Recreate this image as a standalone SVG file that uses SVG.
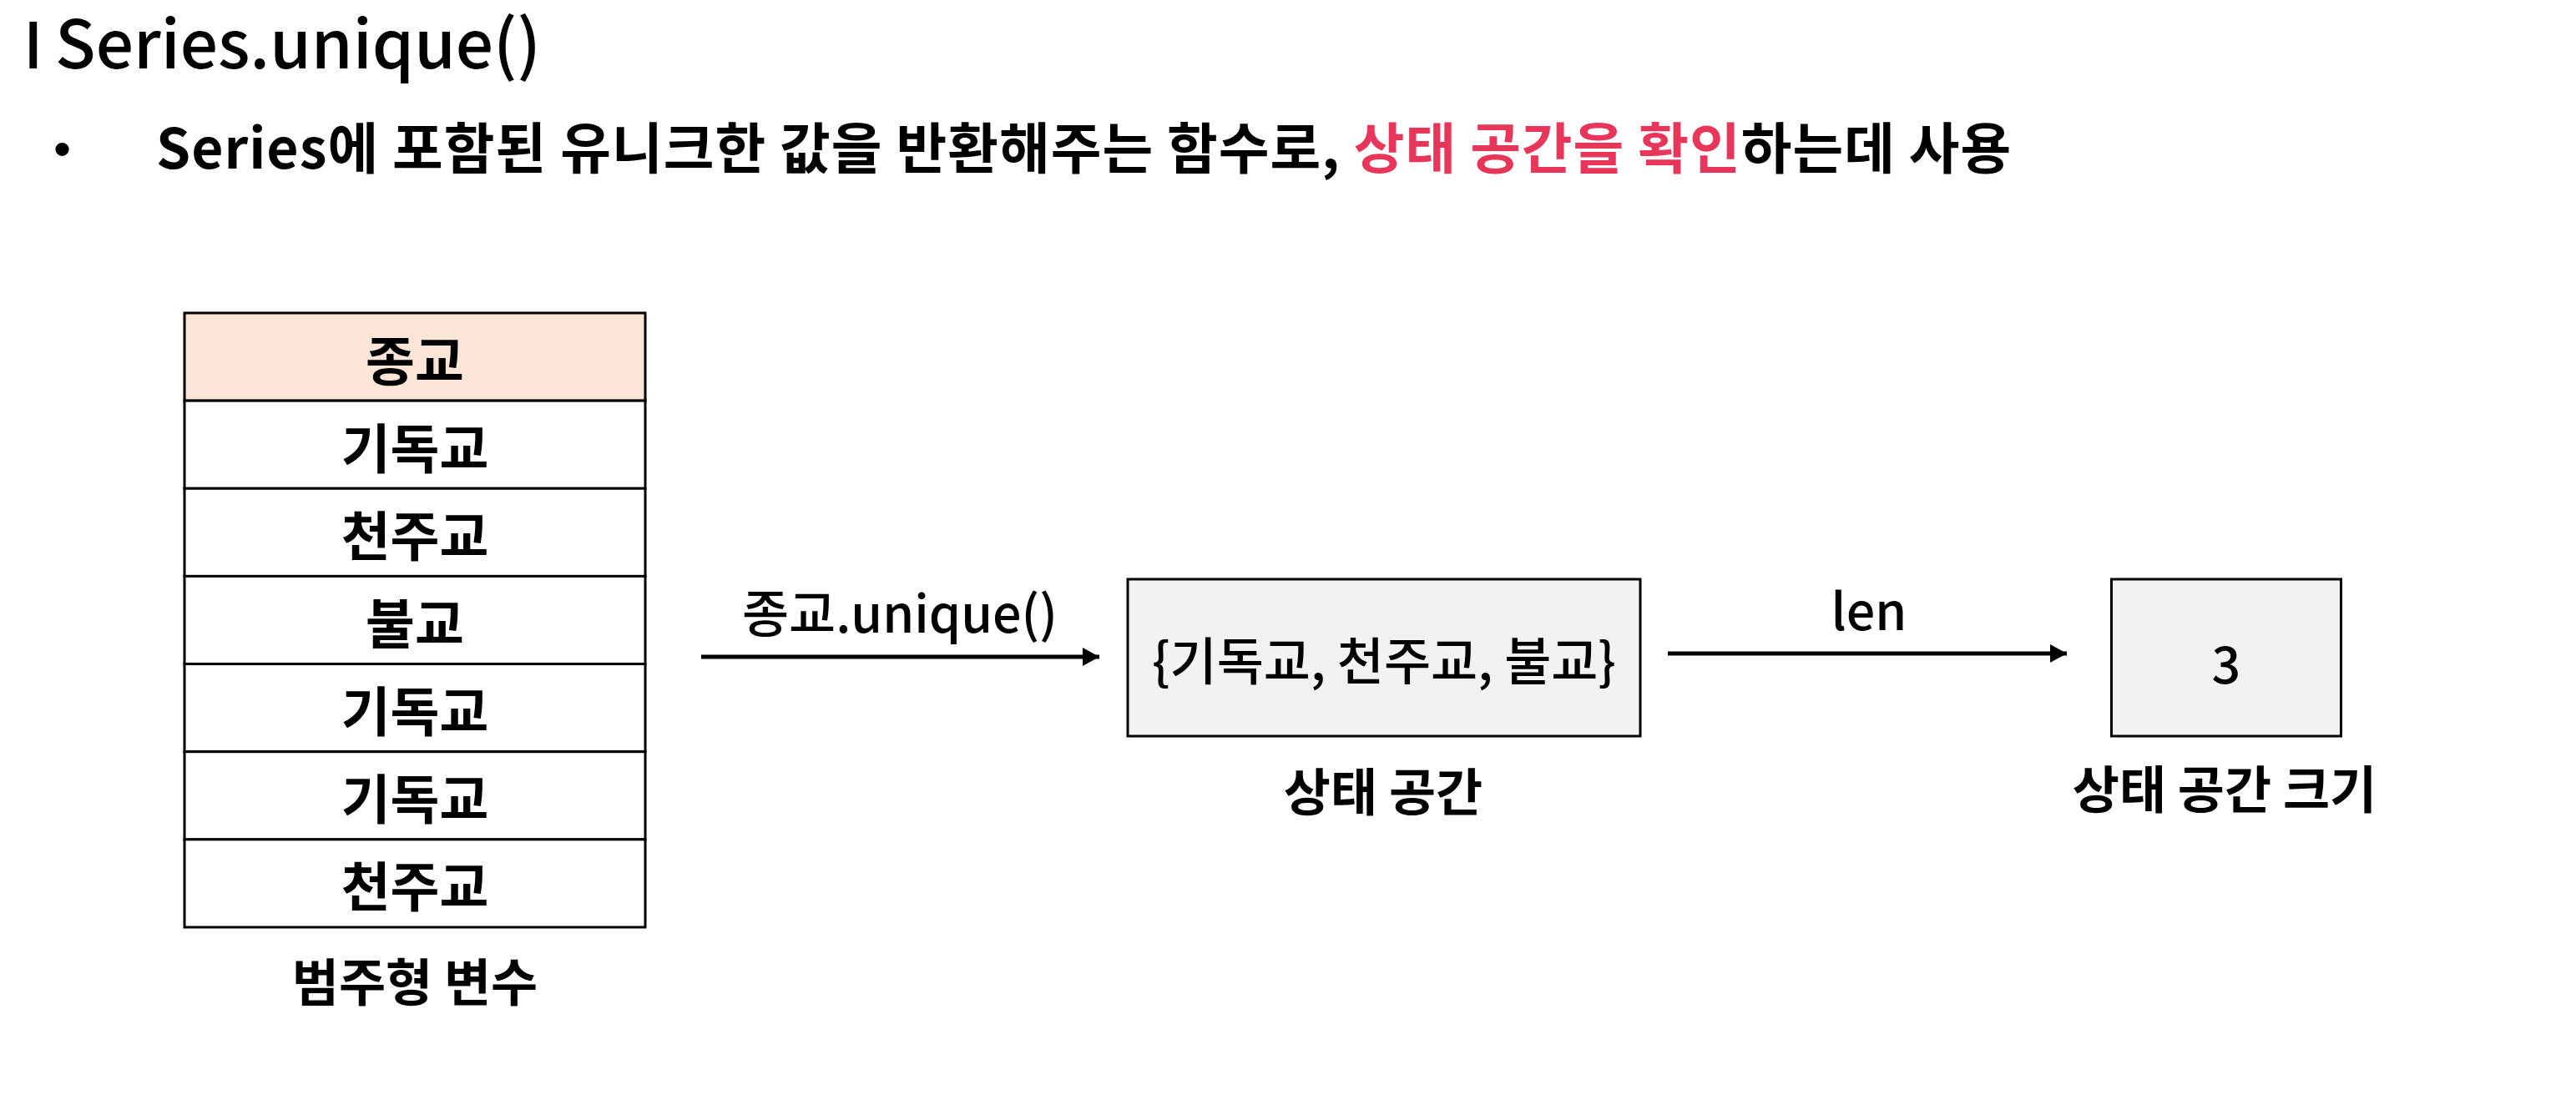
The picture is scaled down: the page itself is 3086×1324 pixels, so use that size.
<svg xmlns="http://www.w3.org/2000/svg" width="3086" height="1324" viewBox="0 0 3086 1324">
  <style>
    text { font-family: "Noto Sans CJK KR", "Noto Sans", sans-serif; fill: #000; }
    .title { font-size: 80px; font-weight: 500; }
    .bar { font-size: 76px; font-weight: 500; }
    .body { font-size: 66px; font-weight: 700; letter-spacing: 1px; }
    .red { fill: #E8365A; }
    .cell { fill: #FFFFFF; stroke: #000; stroke-width: 3; }
    .head { fill: #FBE5D6; stroke: #000; stroke-width: 3; }
    .ctext { font-size: 64px; font-weight: 700; text-anchor: middle; dominant-baseline: central; }
    .box { fill: #F2F2F2; stroke: #000; stroke-width: 3; }
    .btext { font-size: 61px; font-weight: 500; text-anchor: middle; dominant-baseline: central; }
    .cap { font-size: 61px; font-weight: 700; text-anchor: middle; dominant-baseline: central; }
    .lbl { font-size: 61px; font-weight: 500; text-anchor: middle; }
    .conn { stroke: #000; stroke-width: 5; fill: none; }
  </style>
  <defs>
    <marker id="arrow" markerUnits="userSpaceOnUse" markerWidth="20" markerHeight="22" refX="20" refY="11" orient="auto">
      <path d="M0,0 L20,11 L0,22 Z" fill="#000"/>
    </marker>
  </defs>
  <rect x="0" y="0" width="3086" height="1324" fill="#FFFFFF"/>

  <g id="title">
    <text class="bar" x="28" y="82">I</text>
    <text class="title" x="66" y="82">Series.unique()</text>
  </g>
  <g id="bullet">
    <text x="64" y="199" style="font-family: 'Liberation Sans', sans-serif; font-size: 60px;">•</text>
    <text class="body" x="187" y="202">Series에 포함된 유니크한 값을 반환해주는 함수로, <tspan class="red">상태 공간을 확인</tspan>하는데 사용</text>
  </g>

  <g id="table">
    <rect class="head" x="221" y="375" width="552" height="105.14"/>
    <rect class="cell" x="221" y="480.14" width="552" height="105.14"/>
    <rect class="cell" x="221" y="585.28" width="552" height="105.14"/>
    <rect class="cell" x="221" y="690.42" width="552" height="105.14"/>
    <rect class="cell" x="221" y="795.56" width="552" height="105.14"/>
    <rect class="cell" x="221" y="900.7" width="552" height="105.14"/>
    <rect class="cell" x="221" y="1005.84" width="552" height="105.14"/>
    <text class="ctext" x="497" y="427.6">종교</text>
    <text class="ctext" x="497" y="532.7">기독교</text>
    <text class="ctext" x="497" y="637.9">천주교</text>
    <text class="ctext" x="497" y="743">불교</text>
    <text class="ctext" x="497" y="848.1">기독교</text>
    <text class="ctext" x="497" y="953.3">기독교</text>
    <text class="ctext" x="497" y="1058.4">천주교</text>
    <text class="cap" x="497" y="1173">범주형 변수</text>
  </g>

  <g id="state-space">
    <rect class="box" x="1351" y="694" width="614" height="188"/>
    <text class="btext" x="1658" y="788">{기독교, 천주교, 불교}</text>
    <text class="cap" x="1657" y="945">상태 공간</text>
  </g>

  <g id="state-size">
    <rect class="box" x="2529.5" y="694" width="275" height="188"/>
    <text class="btext" x="2667" y="792">3</text>
    <text class="cap" x="2665" y="942">상태 공간 크기</text>
  </g>

  <g id="connectors">
    <line class="conn" x1="840" y1="787" x2="1317" y2="787" marker-end="url(#arrow)"/>
    <text class="lbl" x="1078" y="758">종교.unique()</text>
    <line class="conn" x1="1998" y1="783" x2="2476" y2="783" marker-end="url(#arrow)"/>
    <text class="lbl" x="2239" y="755">len</text>
  </g>
</svg>
